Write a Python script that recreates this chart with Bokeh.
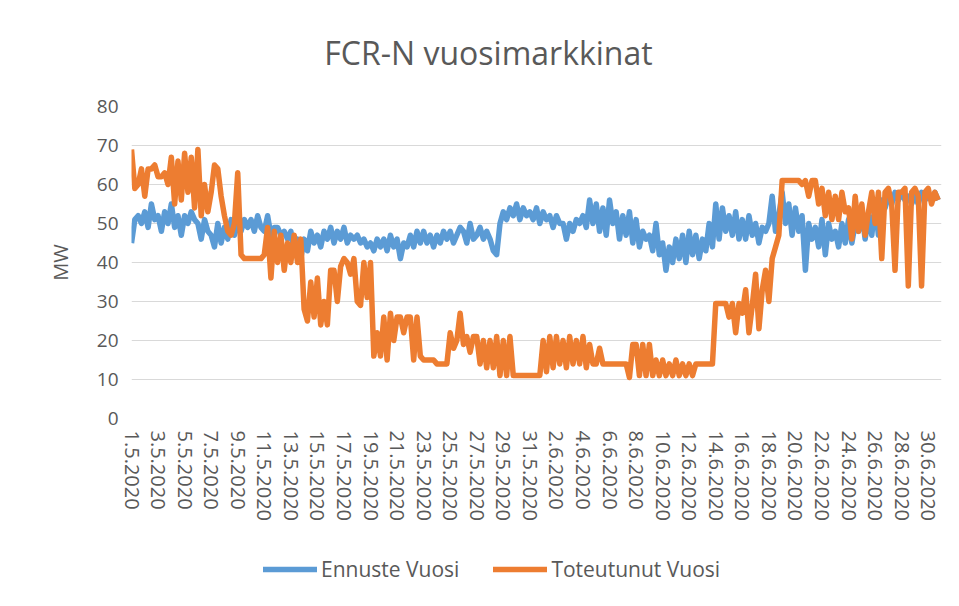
from bokeh.plotting import figure
from bokeh.layouts import column
from bokeh.models import Range1d, FixedTicker, Label, Legend, LegendItem, ColumnDataSource
from bokeh.embed import file_html
from bokeh.resources import INLINE

# Values, 4 samples per day (00, 06, 12, 18 h), 1.5.2020 - 30.6.2020
ennuste = [
    45, 51, 52, 50,  53, 49, 55, 51,  52, 48, 53, 50,  55, 49, 52, 47,  52, 50, 53, 51,
    50, 46, 51, 48,  47, 44, 50, 45,  49, 46, 51, 47,  50, 48, 51, 49,  51, 48, 52, 49,
    48, 52, 47, 49,  49, 47, 48, 46,  48, 43, 46, 41,  46, 43, 48, 45,  47, 44, 48, 46,
    49, 45, 48, 46,  49, 45, 47, 46,  47, 45, 46, 44,  45, 43, 46, 44,  46, 43, 47, 44,
    46, 41, 45, 44,  47, 44, 48, 45,  48, 45, 47, 44,  47, 45, 48, 46,  48, 45, 47, 49,
    48, 45, 50, 46,  47, 49, 46, 48,  46, 43, 42, 50,  53, 51, 54, 52,  55, 51, 54, 52,
    53, 51, 54, 50,  53, 51, 52, 49,  52, 50, 50, 46,  50, 48, 51, 50,  52, 49, 56, 50,
    55, 48, 54, 47,  56, 50, 53, 46,  52, 47, 53, 45,  51, 44, 48, 46,  47, 43, 50, 42,
    45, 38, 44, 40,  46, 41, 47, 40,  48, 42, 47, 41,  46, 43, 50, 44,  55, 46, 54, 48,
    52, 47, 53, 46,  51, 46, 52, 47,  50, 45, 49, 48,  50, 57, 48, 52,  58, 50, 55, 47,
    54, 48, 52, 38,  50, 46, 49, 44,  51, 42, 50, 46,  48, 44, 50, 45,  51, 45, 50, 48,
    53, 46, 52, 47,  55, 47, 56, 54,  57, 55, 58, 56,  58, 56, 57, 55,  57, 55, 58, 56,
    57, 56, 58, 56,
]
toteutunut = [
    69, 59, 60, 64,  57, 64, 64, 65,  62, 62, 63, 60,  67, 55, 66, 56,  68, 58, 67, 54,
    69, 52, 60, 53,  58, 65, 64, 57,  52, 48, 47, 50,  63, 42, 41, 41,  41, 41, 41, 41,
    42, 49, 36, 48,  40, 47, 38, 45,  40, 47, 40, 46,  28, 25, 35, 26,  36, 24, 30, 24,
    38, 38, 30, 39,  41, 40, 37, 41,  30, 29, 40, 31,  40, 16, 22, 16,  26, 15, 27, 20,
    26, 26, 22, 26,  26, 15, 26, 16,  15, 15, 15, 15,  14, 14, 14, 14,  22, 18, 20, 27,
    19, 21, 17, 21,  21, 14, 20, 13,  20, 13, 21, 11,  20, 11, 21, 11,  11, 11, 11, 11,
    11, 11, 11, 11,  20, 12, 21, 13,  21, 14, 20, 13,  21, 14, 20, 14,  21, 13, 19, 14,
    14, 18, 14, 14,  14, 14, 14, 14,  14, 14, 10.5, 19,  19, 11, 19, 11,  19, 11, 15, 11,
    15, 11, 14, 11,  15, 11, 14, 11,  14, 11, 14, 14,  14, 14, 14, 14,  29.5, 29.5, 29.5, 29.5,
    26, 29.5, 22, 29.5,  27, 33, 22, 29,  37, 23, 33, 38,  30, 41, 44, 47,  61, 61, 61, 61,
    61, 61, 60, 61,  57, 61, 61, 55,  59, 52, 58, 51,  57, 51, 58, 53,  54, 46, 57, 48,
    55, 47, 53, 58,  50, 58, 41, 58,  59, 55, 38, 58,  58, 59, 34, 58,  59, 57, 34, 58,
    59, 55, 58, 56,
]
date_labels = [
    "1.5.2020", "3.5.2020", "5.5.2020", "7.5.2020", "9.5.2020", "11.5.2020", "13.5.2020",
    "15.5.2020", "17.5.2020", "19.5.2020", "21.5.2020", "23.5.2020", "25.5.2020", "27.5.2020",
    "29.5.2020", "31.5.2020", "2.6.2020", "4.6.2020", "6.6.2020", "8.6.2020", "10.6.2020",
    "12.6.2020", "14.6.2020", "16.6.2020", "18.6.2020", "20.6.2020", "22.6.2020", "24.6.2020",
    "26.6.2020", "28.6.2020", "30.6.2020",
]
series_names = ["Ennuste Vuosi", "Toteutunut Vuosi"]
series_colors = ["#5B9BD5", "#ED7D31"]
y_ticks = [0, 10, 20, 30, 40, 50, 60, 70, 80]
samples_per_day = 4

xs = [i / samples_per_day for i in range(len(ennuste))]
tick_pos = [2 * i for i in range(len(date_labels))]

TXT = "#595959"
GRID = "#d9d9d9"
FONT = "Open Sans"
W = 951
LEFT, RIGHT = 131, 10          # frame is shared by all three stacked figures
TOP_H, MAIN_H, LEG_H = 90, 448, 62
LW = 5.5


def blank(fig):
    fig.axis.visible = False
    fig.grid.visible = False
    fig.outline_line_color = None
    fig.background_fill_color = "white"
    fig.border_fill_color = "white"


# ---- title strip (x range in page pixels of the frame) ----
tf = figure(width=W, height=TOP_H, output_backend="svg", toolbar_location=None,
            x_range=Range1d(LEFT, W - RIGHT), y_range=Range1d(0, TOP_H),
            min_border_left=LEFT, min_border_right=RIGHT, min_border_top=0, min_border_bottom=0)
blank(tf)
tf.add_layout(Label(x=488, y=TOP_H - 52, text="FCR-N vuosimarkkinat", text_align="center",
                    text_baseline="middle", text_font=FONT, text_font_size="32px", text_color=TXT))

# ---- main chart ----
p = figure(width=W, height=MAIN_H, output_backend="svg", toolbar_location=None,
           x_range=Range1d(0, 61), y_range=Range1d(0, 80),
           min_border_left=LEFT, min_border_right=RIGHT, min_border_top=16, min_border_bottom=120)
p.outline_line_color = None
p.background_fill_color = "white"
p.border_fill_color = "white"

p.xgrid.visible = False
p.ygrid.grid_line_color = GRID
p.ygrid.grid_line_width = 1
p.ygrid.ticker = FixedTicker(ticks=y_ticks)

p.yaxis.ticker = FixedTicker(ticks=y_ticks)
p.xaxis.ticker = FixedTicker(ticks=tick_pos)
p.xaxis.major_label_overrides = {t: lab for t, lab in zip(tick_pos, date_labels)}
p.xaxis.major_label_orientation = "vertical"

for ax in (p.xaxis[0], p.yaxis[0]):
    ax.axis_line_color = None
    ax.major_tick_line_color = None
    ax.minor_tick_line_color = None
    ax.major_tick_in = 0
    ax.major_tick_out = 0
    ax.major_label_text_color = TXT
    ax.major_label_text_font = FONT
p.xaxis.major_label_text_font_size = "20px"
p.yaxis.major_label_text_font_size = "19px"
p.xaxis.major_label_standoff = 12
p.yaxis.major_label_standoff = 13
p.yaxis.axis_label = "MW"
p.yaxis.axis_label_text_font = FONT
p.yaxis.axis_label_text_font_size = "20px"
p.yaxis.axis_label_text_font_style = "normal"
p.yaxis.axis_label_text_color = TXT
p.yaxis.axis_label_standoff = 20

src = ColumnDataSource(dict(x=xs, ennuste=ennuste, toteutunut=toteutunut))
p.line("x", "ennuste", source=src, line_color=series_colors[0], line_width=LW, line_join="round")
p.line("x", "toteutunut", source=src, line_color=series_colors[1], line_width=LW, line_join="round")

# ---- legend strip ----
lf = figure(width=W, height=LEG_H, output_backend="svg", toolbar_location=None,
            x_range=Range1d(0, 1), y_range=Range1d(0, 1),
            min_border_left=LEFT, min_border_right=RIGHT, min_border_top=0, min_border_bottom=0)
blank(lf)
nan = float("nan")
items = []
for name, col in zip(series_names, series_colors):
    r = lf.line(x=[nan, nan], y=[nan, nan], line_color=col, line_width=LW, line_cap="round")
    items.append(LegendItem(label=name, renderers=[r]))
legend = Legend(items=items, location=(263 - LEFT, 17), orientation="horizontal",
                glyph_width=54, glyph_height=24, label_standoff=4, spacing=34,
                padding=0, margin=0, border_line_color=None, background_fill_alpha=0,
                label_text_font=FONT, label_text_font_size="21px", label_text_color=TXT)
lf.add_layout(legend)

layout = column(tf, p, lf, spacing=0)
open("out.html", "w").write(file_html(layout, INLINE))
